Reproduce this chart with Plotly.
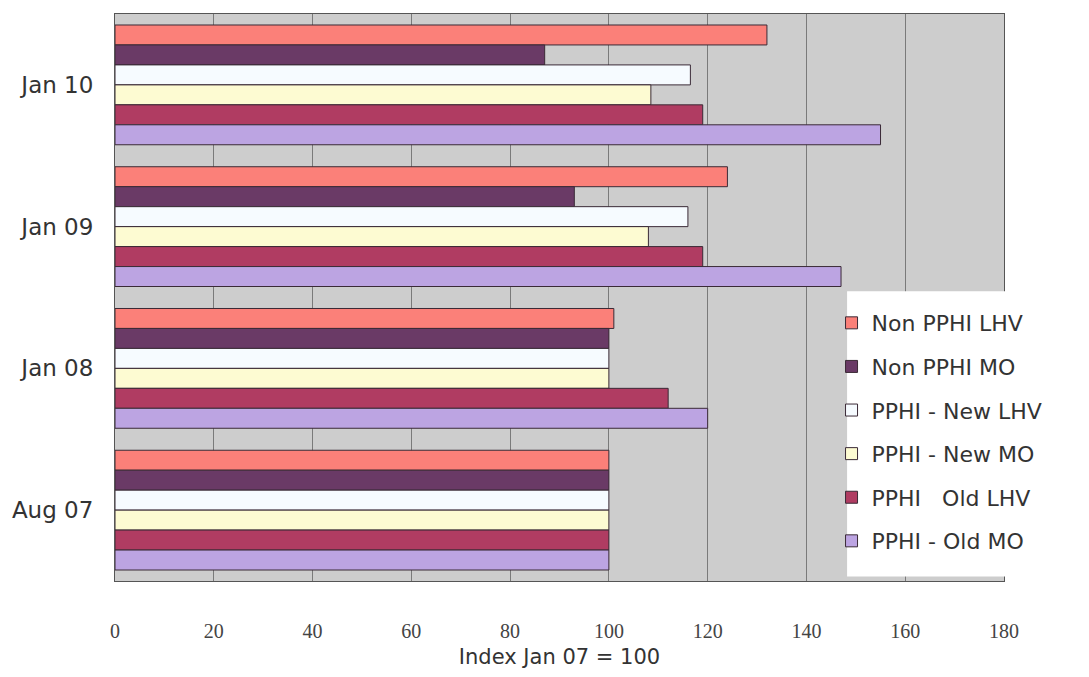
import plotly.graph_objects as go

# Periods (top to bottom) and index values per series, Jan 07 = 100
periods = ["Jan 10", "Jan 09", "Jan 08", "Aug 07"]

series_names = [
    "Non PPHI LHV",
    "Non PPHI MO",
    "PPHI - New LHV",
    "PPHI - New MO",
    "PPHI   Old LHV",
    "PPHI - Old MO",
]

non_pphi_lhv = [132, 124, 101, 100]
non_pphi_mo = [87, 93, 100, 100]
pphi_new_lhv = [116.5, 116, 100, 100]
pphi_new_mo = [108.5, 108, 100, 100]
pphi_old_lhv = [119, 119, 112, 100]
pphi_old_mo = [155, 147, 120, 100]

series_values = [non_pphi_lhv, non_pphi_mo, pphi_new_lhv, pphi_new_mo, pphi_old_lhv, pphi_old_mo]

colors = ["#fb8079", "#6a3a66", "#f6fbff", "#fdfbd2", "#b03c62", "#bca4e2"]

x_ticks = [0, 20, 40, 60, 80, 100, 120, 140, 160, 180]

fig = go.Figure()
for i, (name, vals, col) in enumerate(zip(series_names, series_values, colors)):
    fig.add_trace(go.Bar(
        y=periods,
        x=vals,
        name=name,
        legendgroup=f"g{i}",
        orientation="h",
        marker=dict(color=col, line=dict(color="#3a2a36", width=1)),
    ))

# white panel behind the legend, reaching the right edge of the page
fig.add_shape(
    type="rect", xref="paper", yref="paper",
    x0=0.8235, x1=1.2, y0=0.008, y1=0.511,
    fillcolor="white", line=dict(width=0), layer="above",
)

fig.update_layout(
    width=1089,
    height=677,
    barmode="group",
    bargap=0.155,
    bargroupgap=0,
    paper_bgcolor="white",
    plot_bgcolor="#cdcdcd",
    margin=dict(l=115, r=85, t=14, b=92),
    font=dict(family="DejaVu Sans", color="#333333"),
    legend=dict(
        x=0.806, y=0.492, xanchor="left", yanchor="top",
        bgcolor="rgba(0,0,0,0)",
        font=dict(family="DejaVu Sans", size=22, color="#333333"),
        traceorder="grouped",
        tracegroupgap=12,
        itemwidth=30,
    ),
    xaxis=dict(
        range=[0, 180],
        tickvals=x_ticks,
        ticktext=[str(v) for v in x_ticks],
        showgrid=True,
        gridcolor="#7a7a7a",
        gridwidth=1,
        zeroline=False,
        showline=True,
        linecolor="#555555",
        linewidth=1,
        mirror=True,
        ticks="",
        ticklabelstandoff=32,
        tickfont=dict(family="Liberation Serif", size=20, color="#444444"),
        title=dict(text="Index Jan 07 = 100", standoff=8,
                   font=dict(family="DejaVu Sans", size=21, color="#333333")),
    ),
    yaxis=dict(
        autorange="reversed",
        showline=True,
        linecolor="#555555",
        linewidth=1,
        mirror=True,
        ticks="",
        ticklabelstandoff=16,
        tickfont=dict(family="DejaVu Sans", size=23, color="#333333"),
        showgrid=False,
    ),
)

fig.write_html("out.html")
